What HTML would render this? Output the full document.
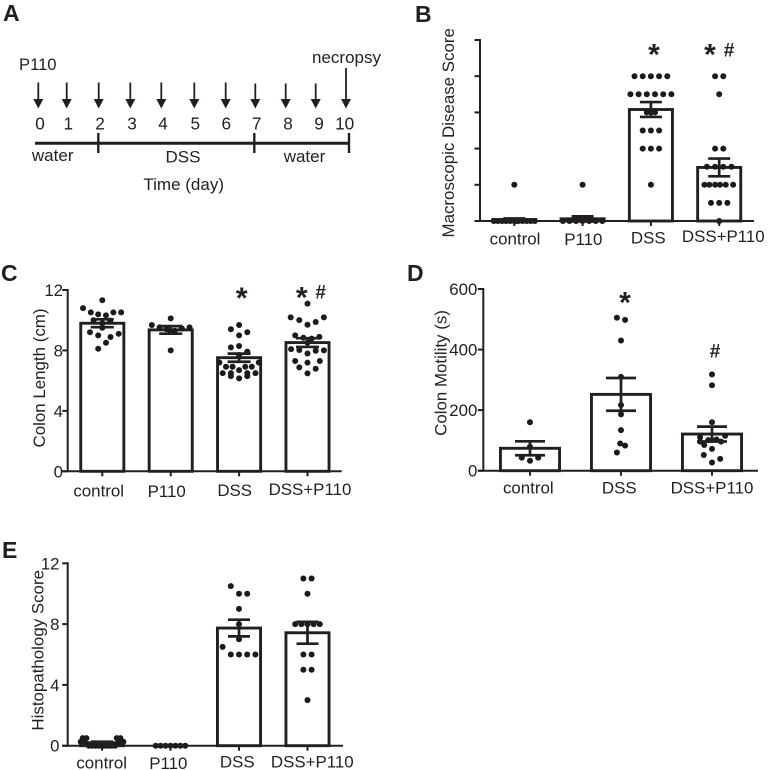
<!DOCTYPE html>
<html lang="en">
<head>
<meta charset="utf-8">
<title>Colitis figure panels</title>
<style>
html,body{margin:0;padding:0;background:#fff;width:768px;height:770px;overflow:hidden}
svg{display:block}
text{font-family:"Liberation Sans",sans-serif;fill:#231f20}
</style>
</head>
<body>
<svg id="figure" xmlns="http://www.w3.org/2000/svg" width="768" height="770" viewBox="0 0 768 770">
<rect width="768" height="770" fill="#fff"/>
<text x="3" y="21" font-size="23" font-weight="bold">A</text>
<text x="415" y="22" font-size="23" font-weight="bold">B</text>
<text x="1" y="281" font-size="23" font-weight="bold">C</text>
<text x="407" y="281" font-size="23" font-weight="bold">D</text>
<text x="2" y="558" font-size="23" font-weight="bold">E</text>
<g id="timeline">
<text x="19" y="70" font-size="16.6">P110</text>
<text x="312" y="63" font-size="17">necropsy</text>
<g stroke="#231f20" stroke-width="1.8">
<line x1="38.3" y1="82.5" x2="38.3" y2="100"/>
<line x1="66.7" y1="82.5" x2="66.7" y2="100"/>
<line x1="98.7" y1="82.5" x2="98.7" y2="100"/>
<line x1="130.3" y1="82.5" x2="130.3" y2="100"/>
<line x1="161.3" y1="82.5" x2="161.3" y2="100"/>
<line x1="194.3" y1="82.5" x2="194.3" y2="100"/>
<line x1="225.7" y1="82.5" x2="225.7" y2="100"/>
<line x1="255.3" y1="83.5" x2="255.3" y2="100"/>
<line x1="285.7" y1="83.5" x2="285.7" y2="100"/>
<line x1="315.7" y1="83.5" x2="315.7" y2="100"/>
<line x1="346" y1="68" x2="346" y2="100"/>
</g>
<g fill="#231f20">
<polygon points="33.3,99 43.3,99 38.3,108.5"/>
<polygon points="61.7,99 71.7,99 66.7,108.5"/>
<polygon points="93.7,99 103.7,99 98.7,108.5"/>
<polygon points="125.3,99 135.3,99 130.3,108.5"/>
<polygon points="156.3,99 166.3,99 161.3,108.5"/>
<polygon points="189.3,99 199.3,99 194.3,108.5"/>
<polygon points="220.7,99 230.7,99 225.7,108.5"/>
<polygon points="250.3,99 260.3,99 255.3,108.5"/>
<polygon points="280.7,99 290.7,99 285.7,108.5"/>
<polygon points="310.7,99 320.7,99 315.7,108.5"/>
<polygon points="341,99 351,99 346,108.5"/>
</g>
<g font-size="17.2" text-anchor="middle">
<text x="40" y="129.3">0</text>
<text x="68.3" y="129.3">1</text>
<text x="100" y="129.3">2</text>
<text x="132" y="129.3">3</text>
<text x="163" y="129.3">4</text>
<text x="195.3" y="129.3">5</text>
<text x="226.3" y="129.3">6</text>
<text x="256.7" y="129.3">7</text>
<text x="288" y="129.3">8</text>
<text x="319" y="129.3">9</text>
<text x="344.7" y="129.3">10</text>
</g>
<line x1="35" y1="143.3" x2="349" y2="143.3" stroke="#231f20" stroke-width="3"/>
<line x1="98.3" y1="133" x2="98.3" y2="153" stroke="#231f20" stroke-width="2.4"/>
<line x1="254.3" y1="133" x2="254.3" y2="153" stroke="#231f20" stroke-width="2.4"/>
<line x1="349" y1="133" x2="349" y2="153" stroke="#231f20" stroke-width="2.4"/>
<g font-size="17" text-anchor="middle">
<text x="52.7" y="161">water</text>
<text x="183" y="162.5">DSS</text>
<text x="304.5" y="162">water</text>
<text x="183.7" y="190">Time (day)</text>
</g>
</g>
</svg>
<script>
const macroCategories = ['control', 'P110', 'DSS', 'DSS+P110'];
const macroMeans = [0.04, 0.06, 3.08, 1.48];
const macroSem = [0.03, 0.07, 0.205, 0.245];
const macroTicks = [0, 1, 2, 3, 4, 5];
const macroValues = [
  [1, 0, 0, 0, 0, 0, 0, 0, 0, 0, 0, 0, 0],
  [1, 0, 0, 0, 0, 0, 0, 0],
  [4, 4, 4, 4, 4, 3.5, 3.5, 3.5, 3.5, 3.5, 3.5, 3, 3, 3, 2.5, 2.5, 2.5, 2, 2, 2, 1],
  [4, 4, 3.5, 2, 2, 1.5, 1.5, 1.5, 1.5, 1, 1, 1, 1, 1, 1, 0.5, 0.5, 0.5, 0]
];
const macroSlots = [
  [0, -2.5, -2, -1.5, -1, -0.5, 0, 0.5, 1, 1.5, 2, 2.5, 0.25],
  [0, -2.4, -1.6, -0.8, 0, 0.8, 1.6, 2.4],
  [-2, -1, 0, 1, 2, -2.5, -1.5, -0.5, 0.5, 1.5, 2.5, -0.5, 0, 0.5, -1, 0, 1, -1, 0, 1, 0],
  [-0.5, 0.5, 0, -0.5, 0.5, -1.5, -0.5, 0.5, 1.5, -1.8, -1.2, -0.5, 0.1, 0.8, 1.7, -1, 0, 1, 0]
];

const lengthCategories = ['control', 'P110', 'DSS', 'DSS+P110'];
const lengthMeans = [9.8, 9.36, 7.52, 8.52];
const lengthSem = [0.26, 0.25, 0.27, 0.29];
const lengthTicks = [0, 4, 8, 12];
const lengthValues = [
  [11.32, 10.8, 10.52, 10.39, 10.32, 10.52, 10.52, 10, 9.97, 9.8, 9.5, 9.2, 9, 9.1, 8.89, 8.51, 8.11],
  [10.12, 8, 9.68, 9.53, 9.53, 9.46, 9.4, 9.3, 9.24],
  [9.68, 9.4, 9.2, 9, 8.2, 8.29, 7.92, 7.7, 7.2, 7.2, 6.92, 6.92, 6.92, 6.92, 6.7, 6.5, 6.5, 6.5, 6.5, 6.15, 6.3, 6.3],
  [11.1, 10.19, 10.01, 9.7, 9.88, 10.19, 9, 8.84, 8.78, 8.9, 8.51, 8.09, 8.03, 7.8, 7.98, 8, 7.3, 7.3, 7.19, 6.88, 6.79, 6.48]
];
const lengthSlots = [
  [0, -2.35, -1.4, -0.5, 0.45, 1.35, 2.3, -1.05, 0.95, 0, 0, -1.5, -0.5, 2, 1, 0.45, -0.5],
  [0, 0, -2.3, 2.3, -1.35, 1.35, -0.5, 0.5, 0],
  [0, -1, 1, 0, -1, 0, 1, 0, -2.4, 2.4, -1.6, -0.8, 0.75, 1.55, 0, -2, -1, 1, 2, 0, -1, 1],
  [0, -2.05, -1, 0, 1, 2, -1.5, -0.5, 0.5, 1.45, 0, -2, -1, 0, 1, 2, -1.5, 1.5, 0, -1, 1, 0]
];

const motilityCategories = ['control', 'DSS', 'DSS+P110'];
const motilityMeans = [74, 252, 121];
const motilitySem = [23, 54, 24.5];
const motilityTicks = [0, 200, 400, 600];
const motilityValues = [
  [160, 79, 43, 43, 33],
  [505, 498, 430, 310, 217, 186, 134, 90, 83, 60],
  [318, 282, 160, 115, 110, 103, 101, 101, 96, 96, 85, 72, 52, 39, 27]
];
const motilitySlots = [
  [0, 0, -1, 1, 0],
  [-0.5, 0.5, 0, 0, 0, 0, 0, -0.1, 0.5, -0.5],
  [0, 0, 0, 1.6, -1.45, 0.55, -0.45, 0, 1.1, -1.45, -0.95, 0, -1, 1, 0]
];

const histoCategories = ['control', 'P110', 'DSS', 'DSS+P110'];
const histoMeans = [0.2, 0, 7.74, 7.43];
const histoSem = [0.06, 0, 0.55, 0.72];
const histoTicks = [0, 4, 8, 12];
const histoValues = [
  [0.5, 0.5, 0.5, 0.5, 0.25, 0.25, 0.25, 0.25, 0, 0, 0, 0, 0, 0, 0, 0, 0, 0],
  [0, 0, 0, 0, 0, 0, 0],
  [10.5, 10, 10, 9, 8, 7, 6.5, 6, 6, 6, 6],
  [11, 11, 10, 8, 8, 8, 8, 8, 6, 6, 5, 5, 3]
];
const histoSlots = [
  [-2.35, -1.9, 1.8, 2.25, -2.6, -2.1, 2.1, 2.6, -1.6, -1.2, -0.8, -0.4, 0, 0.4, 0.8, 1.2, 1.6, 0.2],
  [-1.8, -1.2, -0.6, 0, 0.6, 1.2, 1.8],
  [-1, 0, 1, 0, 0, 0, -2, -1, 0, 1, 2],
  [-0.5, 0.5, 0, -1.5, -0.75, 0, 0.75, 1.5, -0.5, 0.5, -0.5, 0.5, 0]
];

const svgNS = 'http://www.w3.org/2000/svg';
const figure = document.getElementById('figure');
const INK = '#231f20';
const SLOT_PX = 8.2;

function make(tag, attrs, parent) {
  const node = document.createElementNS(svgNS, tag);
  for (const key in attrs) node.setAttribute(key, attrs[key]);
  parent.appendChild(node);
  return node;
}

function drawChart(cfg) {
  const group = make('g', {}, figure);
  
  
  const yScale = function (v) {
    return cfg.base - v * (cfg.base - cfg.top) / cfg.yMax;
  };
  const xScale = function (i) {
    return cfg.firstX + i * cfg.stepX;
  };

  cfg.categories.forEach(function (cat, i) {
    const cx = xScale(i);
    const bar = make('rect', {
      x: cx - cfg.barHalf + 1.45,
      y: yScale(cfg.means[i]),
      width: cfg.barHalf * 2 - 2.9,
      height: Math.max(0, cfg.base - yScale(cfg.means[i])),
      fill: '#fff',
      stroke: INK,
      'stroke-width': 2.9
    }, group);
    
    
  });

  cfg.categories.forEach(function (cat, i) {
    const cx = xScale(i);
    cfg.values[i].forEach(function (v, j) {
      const dot = make('circle', {
        cx: cx + cfg.slots[i][j] * SLOT_PX,
        cy: yScale(v),
        r: 3,
        fill: '#1c1a1b'
      }, group);
      
      
    });
  });

  cfg.categories.forEach(function (cat, i) {
    if (cfg.sem[i] <= 0) return;
    const cx = xScale(i);
    const hi = yScale(cfg.means[i] + cfg.sem[i]);
    const lo = yScale(cfg.means[i] - cfg.sem[i]);
    const path = 'M' + (cx - cfg.capHalf) + ' ' + hi + 'H' + (cx + cfg.capHalf) +
      'M' + cx + ' ' + hi + 'V' + lo +
      'M' + (cx - cfg.capHalf) + ' ' + lo + 'H' + (cx + cfg.capHalf);
    const err = make('path', { d: path, fill: 'none', stroke: INK, 'stroke-width': 2.7 }, group);
    
    
  });

  const axisY = make('line', {
    x1: cfg.axisX, x2: cfg.axisX, y1: cfg.top - 1, y2: cfg.base + 1, stroke: INK, 'stroke-width': 2
  }, group);
  
  

  const axisX = make('line', {
    x1: cfg.axisX - 5.5, x2: cfg.axisEnd, y1: cfg.base, y2: cfg.base, stroke: INK, 'stroke-width': 2
  }, group);
  
  

  cfg.ticks.forEach(function (t) {
    const tick = make('line', {
      x1: cfg.axisX - 5.5, x2: cfg.axisX, y1: yScale(t), y2: yScale(t), stroke: INK, 'stroke-width': 2
    }, group);
    
    
    if (cfg.showTickLabels) {
      const label = make('text', {
        x: cfg.tickLabelEnd, y: yScale(t) + 6, 'font-size': 16.8, 'text-anchor': 'end'
      }, group);
      label.textContent = String(t);
      
      
    }
  });

  cfg.categories.forEach(function (cat, i) {
    const tick = make('line', {
      x1: xScale(i), x2: xScale(i), y1: cfg.base, y2: cfg.base + 5, stroke: INK, 'stroke-width': 2
    }, group);
    
    
    const label = make('text', {
      x: cfg.labelCenters[i], y: cfg.labelBaselines[i], 'font-size': 16.9, 'text-anchor': 'middle'
    }, group);
    label.textContent = cat;
    
    
  });

  const title = make('text', {
    transform: 'translate(' + cfg.titleX + ',' + cfg.titleY + ') rotate(-90)',
    'font-size': 16.9,
    'text-anchor': 'middle'
  }, group);
  title.textContent = cfg.title;
  
  

  cfg.marks.forEach(function (m) {
    const isStar = m.glyph === '*';
    const mark = make('text', {
      x: m.x,
      y: m.y + (isStar ? 14 : 6.5),
      'font-size': isStar ? 30 : 19,
      'font-weight': 'bold',
      'text-anchor': 'middle'
    }, group);
    mark.textContent = m.glyph;
    
    
  });
}

drawChart({
  name: 'macroscopic-score', categories: macroCategories, means: macroMeans, sem: macroSem,
  values: macroValues, slots: macroSlots, ticks: macroTicks, showTickLabels: false,
  yMax: 5, top: 40, base: 221, axisX: 480, axisEnd: 754, firstX: 514.3, stepX: 68.3,
  barHalf: 23, capHalf: 11, tickLabelEnd: 472,
  labelCenters: [515, 583.3, 648.3, 723.3], labelBaselines: [244.3, 245, 243.5, 242],
  title: 'Macroscopic Disease Score', titleX: 454, titleY: 132.8,
  marks: [{ glyph: '*', x: 654, y: 50.7 }, { glyph: '*', x: 710, y: 50.7 }, { glyph: '#', x: 729, y: 50 }]
});
drawChart({
  name: 'colon-length', categories: lengthCategories, means: lengthMeans, sem: lengthSem,
  values: lengthValues, slots: lengthSlots, ticks: lengthTicks, showTickLabels: true,
  yMax: 12, top: 290, base: 471.3, axisX: 67.7, axisEnd: 341.7, firstX: 102.3, stepX: 68.4,
  barHalf: 23, capHalf: 11.5, tickLabelEnd: 63,
  labelCenters: [98.7, 166.7, 234.7, 310], labelBaselines: [496.7, 497, 496, 495],
  title: 'Colon Length (cm)', titleX: 45, titleY: 378,
  marks: [{ glyph: '*', x: 241.7, y: 294 }, { glyph: '*', x: 301.7, y: 293.5 }, { glyph: '#', x: 320.7, y: 292 }]
});
drawChart({
  name: 'colon-motility', categories: motilityCategories, means: motilityMeans, sem: motilitySem,
  values: motilityValues, slots: motilitySlots, ticks: motilityTicks, showTickLabels: true,
  yMax: 600, top: 289, base: 470.7, axisX: 483.3, axisEnd: 758, firstX: 530, stepX: 91,
  barHalf: 31, capHalf: 15, tickLabelEnd: 477.3,
  labelCenters: [528.3, 619.3, 712], labelBaselines: [493.7, 493.7, 493.7],
  title: 'Colon Motility (s)', titleX: 446.7, titleY: 373,
  marks: [{ glyph: '*', x: 625, y: 298.3 }, { glyph: '#', x: 715, y: 351 }]
});
drawChart({
  name: 'histopathology-score', categories: histoCategories, means: histoMeans, sem: histoSem,
  values: histoValues, slots: histoSlots, ticks: histoTicks, showTickLabels: true,
  yMax: 12, top: 563.3, base: 745.7, axisX: 67.7, axisEnd: 343, firstX: 102, stepX: 68.5,
  barHalf: 23, capHalf: 11, tickLabelEnd: 59.5,
  labelCenters: [101.7, 168.3, 237.3, 312.3], labelBaselines: [768.5, 769, 767.7, 767.7],
  title: 'Histopathology Score', titleX: 43.3, titleY: 650.3,
  marks: []
});
</script>
</body>
</html>
